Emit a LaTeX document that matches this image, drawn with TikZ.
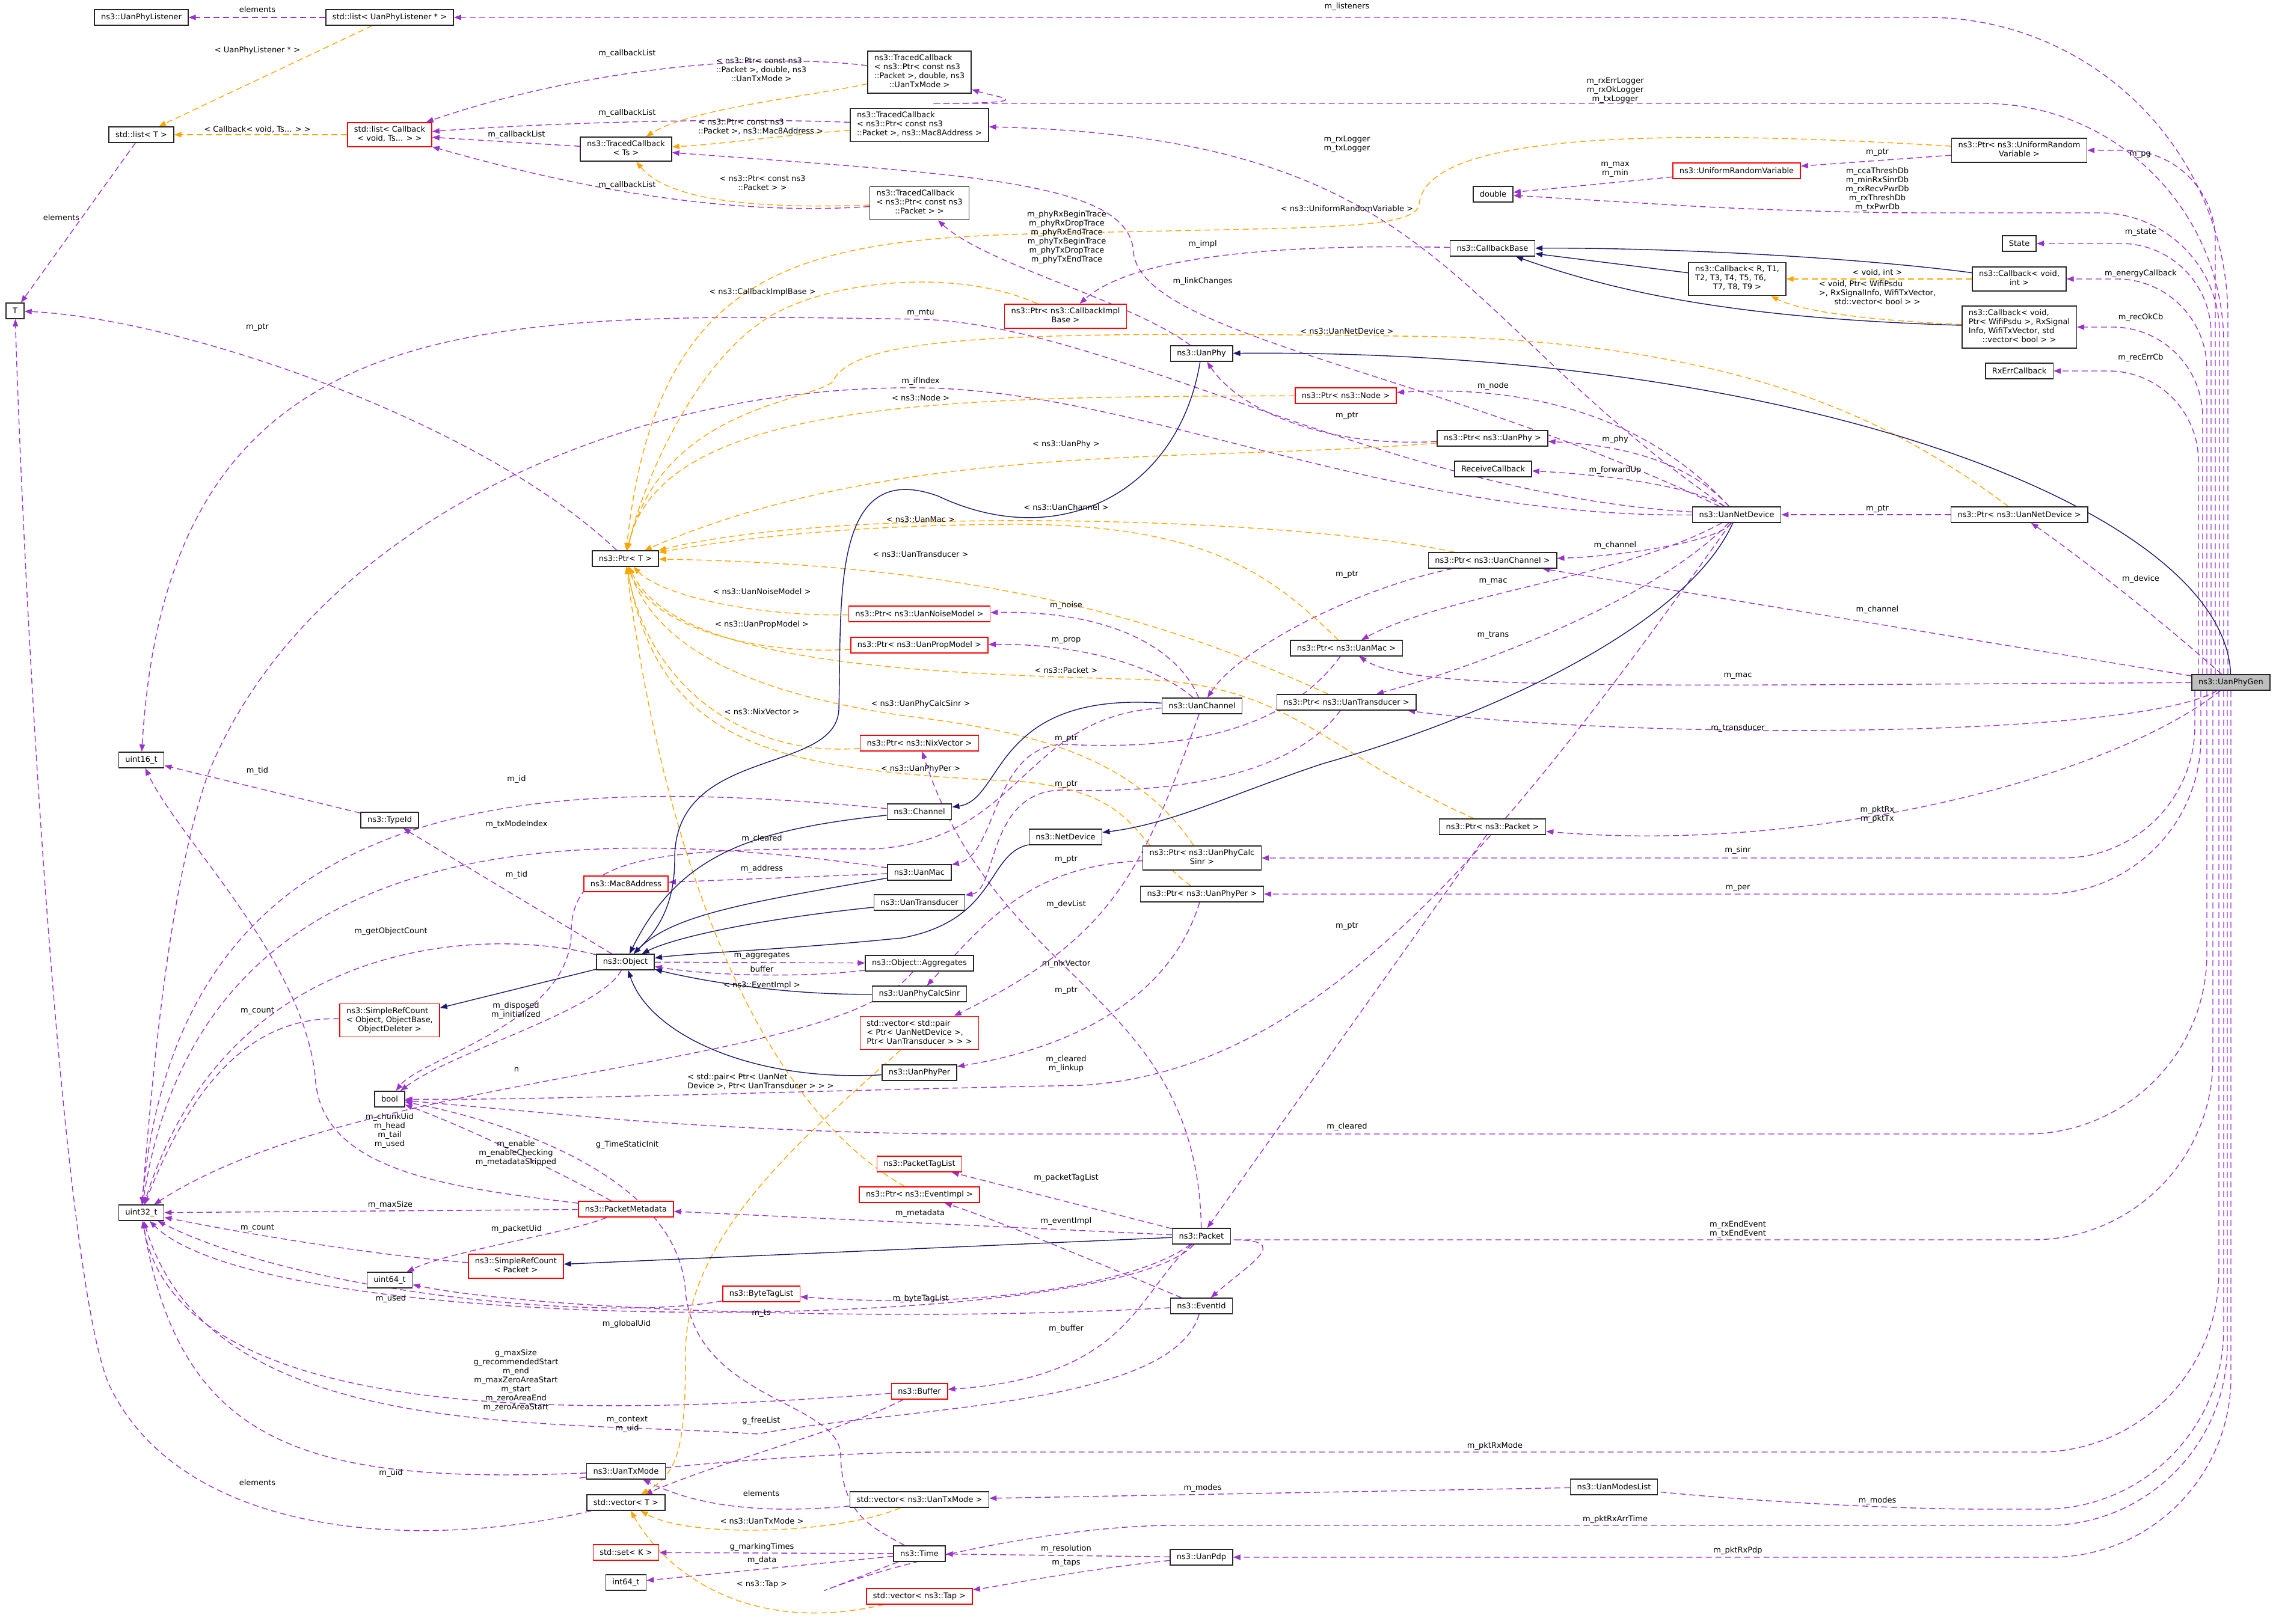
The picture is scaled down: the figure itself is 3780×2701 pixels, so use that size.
\documentclass[tikz,border=0pt]{standalone}
\usepackage{fontspec}
\setmainfont{DejaVu Sans}
\usetikzlibrary{arrows.meta}
\definecolor{usecol}{HTML}{9A32CD}
\definecolor{tplcol}{HTML}{FFA500}
\definecolor{inhcol}{HTML}{191970}
\pgfdeclarelayer{edges}
\pgfsetlayers{edges,main}
\newcommand{\nodefont}{\fontsize{6.5}{7.5}\selectfont}
% left aligned lines, last one centred
\newcommand{\dx}[2]{\begin{tabular}{@{}l@{}}#1\\\multicolumn{1}{@{}c@{}}{#2}\end{tabular}}
\tikzset{
  cls/.style={draw=black!85, line width=0.75pt, fill=white, font=\nodefont,
    inner xsep=5.5pt, inner ysep=2.6pt, minimum height=13pt},
  clsred/.style={cls, draw=red},
  clsmain/.style={cls, fill=black!25},
  lbl/.style={font=\nodefont, inner sep=0pt, align=center},
  use/.style={draw=usecol, line width=0.7pt, dash pattern=on 5pt off 3pt,
    -{Triangle[length=6pt,width=4.5pt]}},
  tpl/.style={use, draw=tplcol},
  inh/.style={draw=inhcol, line width=0.7pt, -{Triangle[length=6pt,width=4.5pt]}},
}
\begin{document}
\begin{tikzpicture}[x=0.5pt,y=-0.5pt]
\useasboundingbox (0,0) rectangle (3780,2701);

% classes
\node[clsmain] (phygen) at (3710,1135) {ns3::UanPhyGen};
\node[cls] (phylis) at (235,29) {ns3::UanPhyListener};
\node[cls] (listlis) at (648,29) {std::list< UanPhyListener * >};
\node[cls] (listT) at (235,224) {std::list< T >};
\node[clsred] (listcb) at (648,224) {\dx{std::list< Callback}{< void, Ts... > >}};
\node[cls] (tcTs) at (1041,248) {\dx{ns3::TracedCallback}{< Ts >}};
\node[cls] (tT) at (25,517) {T};
\node[cls] (tcTx) at (1529,120) {\dx{ns3::TracedCallback\\< ns3::Ptr< const ns3\\::Packet >, double, ns3}{::UanTxMode >}};
\node[cls] (tcMac) at (1529,208) {\dx{ns3::TracedCallback\\< ns3::Ptr< const ns3}{::Packet >, ns3::Mac8Address >}};
\node[cls] (tcPkt) at (1529,338) {\dx{ns3::TracedCallback\\< ns3::Ptr< const ns3}{::Packet > >}};
\node[clsred] (ptrCbImpl) at (1772,526) {\dx{ns3::Ptr< ns3::CallbackImpl}{Base >}};
\node[cls] (uanphy) at (1998,588) {ns3::UanPhy};
\node[clsred] (ptrNode) at (2238,658) {ns3::Ptr< ns3::Node >};
\node[cls] (ptrPhy) at (2482,729) {ns3::Ptr< ns3::UanPhy >};
\node[cls] (recvCb) at (2483,780) {ReceiveCallback};
\node[cls] (cbBase) at (2482,413) {ns3::CallbackBase};
\node[cls] (dbl) at (2483,323) {double};
\node[cls] (ptrUrv) at (3358,250) {\dx{ns3::Ptr< ns3::UniformRandom}{Variable >}};
\node[clsred] (urv) at (2888,284) {ns3::UniformRandomVariable};
\node[cls] (state) at (3358,405) {State};
\node[cls] (cbR) at (2889,464) {\dx{ns3::Callback< R, T1,\\T2, T3, T4, T5, T6,}{T7, T8, T9 >}};
\node[cls] (cbVoidInt) at (3358,464) {\dx{ns3::Callback< void,}{int >}};
\node[cls] (cbWifi) at (3358,544) {\dx{ns3::Callback< void,\\ Ptr< WifiPsdu >, RxSignal\\Info, WifiTxVector, std}{::vector< bool > >}};
\node[cls] (rxErr) at (3358,617) {RxErrCallback};
\node[cls] (netdev) at (2888,856) {ns3::UanNetDevice};
\node[cls] (ptrNetdev) at (3358,856) {ns3::Ptr< ns3::UanNetDevice >};
\node[cls] (ptrT) at (1040,929) {ns3::Ptr< T >};
\node[cls] (u16) at (235,1264) {uint16\_t};
\node[cls] (typeid) at (648,1364) {ns3::TypeId};
\node[clsred] (mac8) at (1041,1470) {ns3::Mac8Address};
\node[cls] (object) at (1040,1600) {ns3::Object};
\node[clsred] (srcObj) at (648,1697) {\dx{ns3::SimpleRefCount\\< Object, ObjectBase,}{ObjectDeleter >}};
\node[clsred] (ptrNoise) at (1529,1021) {ns3::Ptr< ns3::UanNoiseModel >};
\node[clsred] (ptrProp) at (1529,1073) {ns3::Ptr< ns3::UanPropModel >};
\node[cls] (uanchan) at (1999,1174) {ns3::UanChannel};
\node[cls] (ptrMac) at (2239,1078) {ns3::Ptr< ns3::UanMac >};
\node[cls] (ptrTrans) at (2239,1168) {ns3::Ptr< ns3::UanTransducer >};
\node[cls] (ptrChan) at (2482,932) {ns3::Ptr< ns3::UanChannel >};
\node[clsred] (ptrNix) at (1529,1236) {ns3::Ptr< ns3::NixVector >};
\node[cls] (channel) at (1529,1350) {ns3::Channel};
\node[cls] (netdevice) at (1772,1392) {ns3::NetDevice};
\node[cls] (uanmac) at (1529,1451) {ns3::UanMac};
\node[cls] (uantrans) at (1529,1501) {ns3::UanTransducer};
\node[cls] (ptrSinr) at (1999,1427) {\dx{ns3::Ptr< ns3::UanPhyCalc}{Sinr >}};
\node[cls] (ptrPer) at (1999,1487) {ns3::Ptr< ns3::UanPhyPer >};
\node[cls] (ptrPkt) at (2482,1375) {ns3::Ptr< ns3::Packet >};
\node[cls] (aggr) at (1529,1602) {ns3::Object::Aggregates};
\node[cls] (calcsinr) at (1529,1653) {ns3::UanPhyCalcSinr};
\node[clsred] (devlist) at (1529,1718) {\dx{std::vector< std::pair\\< Ptr< UanNetDevice >,}{Ptr< UanTransducer > > >}};
\node[cls] (uanper) at (1529,1784) {ns3::UanPhyPer};
\node[cls] (bln) at (648,1828) {bool};
\node[cls] (u32) at (235,2017) {uint32\_t};
\node[clsred] (pmeta) at (1041,2011) {ns3::PacketMetadata};
\node[clsred] (srcPkt) at (858,2106) {\dx{ns3::SimpleRefCount}{< Packet >}};
\node[cls] (u64) at (648,2129) {uint64\_t};
\node[clsred] (btl) at (1266,2152) {ns3::ByteTagList};
\node[cls] (txmode) at (1041,2447) {ns3::UanTxMode};
\node[cls] (vecT) at (1041,2499) {std::vector< T >};
\node[clsred] (setK) at (1041,2582) {std::set< K >};
\node[cls] (i64) at (1041,2632) {int64\_t};
\node[clsred] (ptl) at (1529,1936) {ns3::PacketTagList};
\node[clsred] (ptrEv) at (1529,1987) {ns3::Ptr< ns3::EventImpl >};
\node[cls] (packet) at (1998,2056) {ns3::Packet};
\node[cls] (eventid) at (1998,2172) {ns3::EventId};
\node[clsred] (buffer) at (1529,2314) {ns3::Buffer};
\node[cls] (vecTx) at (1529,2494) {std::vector< ns3::UanTxMode >};
\node[cls] (time) at (1529,2584) {ns3::Time};
\node[cls] (pdp) at (1998,2590) {ns3::UanPdp};
\node[clsred] (vecTap) at (1529,2655) {std::vector< ns3::Tap >};
\node[cls] (modes) at (2684,2473) {ns3::UanModesList};

\begin{pgfonlayer}{edges}
% members
\draw[use] (listlis) -- (phylis);
\draw[use] (listT) -- (tT);
\draw[use] (tcTx) .. controls (1250,85) and (950,120) .. (listcb);
\draw[use] (tcMac) .. controls (1200,195) and (900,205) .. (listcb);
\draw[use] (tcTs) -- (listcb);
\draw[use] (tcPkt) .. controls (1200,360) and (950,310) .. (listcb);
\draw[use] (netdev) .. controls (2400,520) and (2400,230) .. (tcMac);
\draw[use] (uanphy) .. controls (1880,500) and (1640,440) .. (tcPkt);
\draw[use] (ptrT) .. controls (800,700) and (300,530) .. (tT);
\draw[use] (netdev) .. controls (2300,820) and (1850,540) .. (1531,531) .. controls (800,520) and (280,500) .. (u16);
\draw[use] (netdev) .. controls (2300,860) and (1900,650) .. (1531,645) .. controls (1000,640) and (500,900) .. (345,1290) .. controls (290,1450) and (260,1700) .. (u32);
\draw[use] (ptrUrv) -- (urv);
\draw[use] (urv) -- (dbl);
\draw[use] (cbBase) .. controls (2100,405) and (1880,430) .. (ptrCbImpl);
\draw[use] (netdev) .. controls (2400,620) and (1900,560) .. (1885,420) .. controls (1880,300) and (1600,290) .. (tcTs);
\draw[use] (netdev) .. controls (2700,650) and (2450,645) .. (ptrNode);
\draw[use] (netdev) .. controls (2800,760) and (2680,740) .. (ptrPhy);
\draw[use] (netdev) .. controls (2820,810) and (2680,790) .. (recvCb);
\draw[use] (netdev) .. controls (2860,900) and (2700,925) .. (ptrChan);
\draw[use] (netdev) .. controls (2700,960) and (2400,990) .. (ptrMac);
\draw[use] (netdev) .. controls (2750,1000) and (2450,1110) .. (ptrTrans);
\draw[use] (ptrChan) .. controls (2250,980) and (2060,1080) .. (uanchan);
\draw[use] (ptrPhy) .. controls (2200,745) and (2060,680) .. (uanphy);
\draw[use] (ptrNetdev) -- (netdev);
\draw[use] (phygen) .. controls (3580,1020) and (3450,920) .. (ptrNetdev);
\draw[use] (phygen) -- (ptrChan);
\draw[use] (phygen) .. controls (2700,1140) and (2350,1150) .. (ptrMac);
\draw[use] (phygen) .. controls (3550,1230) and (2700,1230) .. (ptrTrans);
\draw[use] (phygen) .. controls (3500,1300) and (3000,1420) .. (ptrPkt);
\draw[use,rounded corners=250pt] ([shift={(-5,0)}]phygen.north) |- (listlis);
\draw[use] ([shift={(-12,0)}]phygen.north) [rounded corners=200pt] |- (1950,172) [sharp corners] .. controls (1750,172) and (1650,160) .. (tcTx);
\draw[use] ([shift={(-19,0)}]phygen.north) [rounded corners=100pt] |- (3000,354) [sharp corners] -- (dbl);
\draw[use,rounded corners=75pt] ([shift={(-26,0)}]phygen.north) |- (ptrUrv);
\draw[use,rounded corners=75pt] ([shift={(-33,0)}]phygen.north) |- (state);
\draw[use,rounded corners=75pt] ([shift={(-40,0)}]phygen.north) |- (cbVoidInt);
\draw[use,rounded corners=75pt] ([shift={(-47,0)}]phygen.north) |- (cbWifi);
\draw[use,rounded corners=75pt] ([shift={(-54,0)}]phygen.north) |- (rxErr);
\draw[use,rounded corners=110pt] ([shift={(-60,0)}]phygen.south) |- (ptrSinr);
\draw[use,rounded corners=130pt] ([shift={(-50,0)}]phygen.south) |- (ptrPer);
\draw[use] ([shift={(-40,0)}]phygen.south) [rounded corners=150pt] |- (1300,1886) [sharp corners] -- (bln);
\draw[use] ([shift={(-30,0)}]phygen.south) [rounded corners=150pt] |- (2350,2062) [sharp corners] .. controls (2150,2062) and (2080,2100) .. (eventid);
\draw[use] ([shift={(-20,0)}]phygen.south) [rounded corners=150pt] |- (1260,2415) [sharp corners] -- (txmode);
\draw[use] ([shift={(-12,0)}]phygen.south) [rounded corners=150pt] |- (3000,2510) [sharp corners] -- (modes);
\draw[use] ([shift={(-6,0)}]phygen.south) [rounded corners=150pt] |- (1650,2537) [sharp corners] -- (time);
\draw[use,rounded corners=150pt] (phygen.south) |- (pdp);
\draw[use] (typeid) -- (u16);
\draw[use] (pmeta) .. controls (750,1975) and (540,1950) .. (525,1800) .. controls (510,1600) and (300,1400) .. (u16);
\draw[use] (object) -- (typeid);
\draw[use] (channel) .. controls (900,1290) and (300,1300) .. (u32);
\draw[use] (uanmac) .. controls (900,1360) and (330,1400) .. (u32);
\draw[use] (object) .. controls (800,1540) and (380,1560) .. (u32);
\draw[use] (srcObj) .. controls (420,1690) and (320,1800) .. (u32);
\draw[use] (object) .. controls (1000,1680) and (750,1750) .. (bln);
\draw[use] (aggr) .. controls (1390,1780) and (600,1780) .. (u32);
\draw[use] (object) -- (aggr);
\draw[use] (aggr) .. controls (1350,1625) and (1200,1625) .. (object);
\draw[use] (uanmac) -- (mac8);
\draw[use] (uanchan) .. controls (1700,1190) and (1700,1400) .. (1450,1412) .. controls (1100,1410) and (950,1420) .. (950,1550) .. controls (950,1700) and (700,1760) .. (bln);
\draw[use] (uanchan) .. controls (1960,1080) and (1850,1015) .. (ptrNoise);
\draw[use] (uanchan) .. controls (1940,1120) and (1820,1070) .. (ptrProp);
\draw[use] (packet) .. controls (1990,1650) and (1660,1640) .. (ptrNix);
\draw[use] (uanchan) .. controls (1900,1450) and (1850,1560) .. (devlist);
\draw[use] (ptrMac) .. controls (2150,1200) and (2000,1250) .. (1774,1238) .. controls (1650,1235) and (1660,1420) .. (uanmac);
\draw[use] (ptrTrans) .. controls (2150,1290) and (1950,1320) .. (1773,1314) .. controls (1640,1310) and (1660,1480) .. (uantrans);
\draw[use] (ptrSinr) .. controls (1720,1440) and (1650,1520) .. (calcsinr);
\draw[use] (ptrPer) .. controls (1950,1650) and (1800,1740) .. (uanper);
\draw[use] (netdev) .. controls (2500,1400) and (2200,1780) .. (1800,1805) .. controls (1300,1815) and (900,1830) .. (bln);
\draw[use] (ptrPkt) -- (packet);
\draw[use] (packet) -- (ptl);
\draw[use] (packet) -- (pmeta);
\draw[use] (eventid) .. controls (1800,2090) and (1660,2030) .. (ptrEv);
\draw[use] (packet) .. controls (1900,2130) and (1650,2180) .. (btl);
\draw[use] (btl) .. controls (1000,2200) and (500,2150) .. (u32);
\draw[use] (eventid) .. controls (1500,2200) and (900,2180) .. (u64);
\draw[use] (packet) .. controls (1850,2220) and (450,2230) .. (u32);
\draw[use] (pmeta) -- (u32);
\draw[use] (srcPkt) .. controls (650,2090) and (450,2060) .. (u32);
\draw[use] (pmeta) .. controls (950,2050) and (750,2080) .. (u64);
\draw[use] (pmeta) .. controls (950,1960) and (790,1880) .. (bln);
\draw[use] (time) .. controls (1450,2540) and (1400,2520) .. (1398,2420) .. controls (1396,2330) and (1160,2330) .. (1140,2150) .. controls (1130,1950) and (820,1860) .. (bln);
\draw[use] (packet) .. controls (1890,2150) and (1880,2290) .. (buffer);
\draw[use] (buffer) .. controls (1100,2345) and (300,2400) .. (u32);
\draw[use] (eventid) .. controls (1950,2340) and (1500,2340) .. (1260,2385) .. controls (900,2360) and (350,2400) .. (u32);
\draw[use] (txmode) .. controls (500,2470) and (300,2400) .. (u32);
\draw[use] (vecT) .. controls (700,2580) and (300,2560) .. (180,2300) .. controls (100,2100) and (40,1000) .. (tT);
\draw[use] (buffer) .. controls (1400,2380) and (1200,2430) .. (vecT);
\draw[use] (vecTx) .. controls (1250,2520) and (1150,2500) .. (txmode);
\draw[use] (modes) -- (vecTx);
\draw[use] (pdp) -- (time);
\draw[use] (pdp) .. controls (1800,2610) and (1650,2640) .. (vecTap);
\draw[use] (time) -- (setK);
\draw[use] (time) -- (i64);

% template instances
\draw[tpl] (listlis) -- (listT);
\draw[tpl] (listcb) -- (listT);
\draw[tpl] (tcTx) .. controls (1350,160) and (1150,180) .. (tcTs);
\draw[tpl] (tcMac) .. controls (1300,225) and (1200,240) .. (tcTs);
\draw[tpl] (tcPkt) .. controls (1200,350) and (1100,320) .. (tcTs);
\draw[tpl] (ptrUrv) .. controls (2700,210) and (2370,230) .. (2360,340) .. controls (2355,380) and (2200,378) .. (1900,385) .. controls (1400,395) and (1100,380) .. (ptrT);
\draw[tpl] (ptrCbImpl) .. controls (1580,440) and (1350,470) .. (1260,540) .. controls (1150,620) and (1070,800) .. (ptrT);
\draw[tpl] (ptrNetdev) .. controls (3150,700) and (2900,575) .. (2400,560) .. controls (1700,550) and (1420,555) .. (1385,635) .. controls (1340,670) and (1100,680) .. (ptrT);
\draw[tpl] (ptrNode) .. controls (1600,660) and (1100,660) .. (ptrT);
\draw[tpl] (ptrPhy) .. controls (2000,770) and (1500,730) .. (ptrT);
\draw[tpl] (ptrChan) .. controls (2150,860) and (1400,840) .. (ptrT);
\draw[tpl] (ptrMac) .. controls (2110,950) and (2000,875) .. (1700,872) .. controls (1400,872) and (1200,900) .. (ptrT);
\draw[tpl] (ptrTrans) .. controls (2000,1060) and (1700,940) .. (ptrT);
\draw[tpl] (ptrNoise) .. controls (1250,1025) and (1100,990) .. (ptrT);
\draw[tpl] (ptrProp) .. controls (1250,1090) and (1080,1040) .. (ptrT);
\draw[tpl] (ptrPkt) .. controls (2200,1250) and (2150,1140) .. (1900,1130) .. controls (1500,1120) and (1120,1100) .. (ptrT);
\draw[tpl] (ptrSinr) .. controls (1880,1250) and (1700,1215) .. (1501,1190) .. controls (1300,1160) and (1100,1100) .. (ptrT);
\draw[tpl] (ptrNix) .. controls (1250,1260) and (1080,1150) .. (ptrT);
\draw[tpl] (ptrPer) .. controls (1880,1400) and (1900,1320) .. (1700,1300) .. controls (1300,1280) and (1100,1250) .. (ptrT);
\draw[tpl] (ptrEv) .. controls (1250,1830) and (1100,1400) .. (ptrT);
\draw[tpl] (cbVoidInt) -- (cbR);
\draw[tpl] (cbWifi) .. controls (3050,530) and (2980,510) .. (cbR);
\draw[tpl] (devlist) .. controls (1350,1880) and (1140,2050) .. (1140,2250) .. controls (1140,2400) and (1130,2450) .. (vecT);
\draw[tpl] (vecTx) .. controls (1400,2550) and (1150,2560) .. (vecT);
\draw[tpl] (vecTap) .. controls (1250,2720) and (1110,2620) .. (vecT);

% inheritance
\draw[inh] (phygen) .. controls (3700,850) and (3000,580) .. (uanphy);
\draw[inh] (uanphy) .. controls (1960,820) and (1760,920) .. (1560,825) .. controls (1380,760) and (1400,1000) .. (1395,1180) .. controls (1390,1290) and (1120,1240) .. (1122,1430) .. controls (1122,1520) and (1080,1560) .. (object);
\draw[inh] (uanchan) .. controls (1650,1150) and (1670,1330) .. (channel);
\draw[inh] (channel) .. controls (1250,1380) and (1130,1420) .. (object);
\draw[inh] (netdev) .. controls (2800,1050) and (2450,1200) .. (2200,1270) .. controls (2050,1320) and (1950,1370) .. (netdevice);
\draw[inh] (netdevice) .. controls (1640,1420) and (1660,1530) .. (1500,1560) .. controls (1300,1580) and (1150,1585) .. (object);
\draw[inh] (uanmac) .. controls (1250,1500) and (1120,1520) .. (object);
\draw[inh] (uantrans) .. controls (1250,1530) and (1120,1560) .. (object);
\draw[inh] (calcsinr) .. controls (1300,1655) and (1160,1630) .. (object);
\draw[inh] (uanper) .. controls (1250,1800) and (1080,1720) .. (object);
\draw[inh] (object) -- (srcObj);
\draw[inh] (packet) -- (srcPkt);
\draw[inh] (cbVoidInt) .. controls (3100,430) and (2800,412) .. (cbBase);
\draw[inh] (cbR) -- (cbBase);
\draw[inh] (cbWifi) .. controls (2900,530) and (2700,490) .. (cbBase);
\end{pgfonlayer}

% labels
\node[lbl] (lb1) at (428,16) {elements};
\node[lbl] (lb2) at (2240,11) {m\_listeners};
\node[lbl] (lb3) at (102,362) {elements};
\node[lbl] (lb4) at (1043,89) {m\_callbackList};
\node[lbl] (lb5) at (1043,188) {m\_callbackList};
\node[lbl] (lb6) at (859,224) {m\_callbackList};
\node[lbl] (lb7) at (1043,308) {m\_callbackList};
\node[lbl] (lb8) at (428,84) {< UanPhyListener * >};
\node[lbl] (lb9) at (428,215) {< Callback< void, Ts... > >};
\node[lbl] (lb10) at (1266,118) {\dx{< ns3::Ptr< const ns3\\::Packet >, double, ns3}{::UanTxMode >}};
\node[lbl] (lb11) at (1265,212) {\dx{< ns3::Ptr< const ns3}{::Packet >, ns3::Mac8Address >}};
\node[lbl] (lb12) at (1268,306) {\dx{< ns3::Ptr< const ns3}{::Packet > >}};
\node[lbl] (lb13) at (2686,150) {m\_rxErrLogger\\m\_rxOkLogger\\m\_txLogger};
\node[lbl] (lb14) at (2240,240) {m\_rxLogger\\m\_txLogger};
\node[lbl] (lb15) at (1774,395) {m\_phyRxBeginTrace\\m\_phyRxDropTrace\\m\_phyRxEndTrace\\m\_phyTxBeginTrace\\m\_phyTxDropTrace\\m\_phyTxEndTrace};
\node[lbl] (lb16) at (428,544) {m\_ptr};
\node[lbl] (lb17) at (1531,520) {m\_mtu};
\node[lbl] (lb18) at (1531,634) {m\_ifIndex};
\node[lbl] (lb19) at (3122,253) {m\_ptr};
\node[lbl] (lb20) at (2686,282) {m\_max\\m\_min};
\node[lbl] (lb21) at (3122,315) {m\_ccaThreshDb\\m\_minRxSinrDb\\m\_rxRecvPwrDb\\m\_rxThreshDb\\m\_txPwrDb};
\node[lbl] (lb22) at (3559,257) {m\_pg};
\node[lbl] (lb23) at (3560,386) {m\_state};
\node[lbl] (lb24) at (3560,455) {m\_energyCallback};
\node[lbl] (lb25) at (3560,528) {m\_recOkCb};
\node[lbl] (lb26) at (3560,595) {m\_recErrCb};
\node[lbl] (lb27) at (2000,406) {m\_impl};
\node[lbl] (lb28) at (2000,468) {m\_linkChanges};
\node[lbl] (lb29) at (2483,642) {m\_node};
\node[lbl] (lb30) at (2686,731) {m\_phy};
\node[lbl] (lb31) at (2686,782) {m\_forwardUp};
\node[lbl] (lb32) at (2686,907) {m\_channel};
\node[lbl] (lb33) at (2483,967) {m\_mac};
\node[lbl] (lb34) at (2483,1056) {m\_trans};
\node[lbl] (lb35) at (2240,955) {m\_ptr};
\node[lbl] (lb36) at (2240,691) {m\_ptr};
\node[lbl] (lb37) at (3122,846) {m\_ptr};
\node[lbl] (lb38) at (3560,963) {m\_device};
\node[lbl] (lb39) at (3122,1014) {m\_channel};
\node[lbl] (lb40) at (2890,1124) {m\_mac};
\node[lbl] (lb41) at (2890,1211) {m\_transducer};
\node[lbl] (lb42) at (3122,1355) {m\_pktRx\\m\_pktTx};
\node[lbl] (lb43) at (2890,1414) {m\_sinr};
\node[lbl] (lb44) at (2890,1477) {m\_per};
\node[lbl] (lb45) at (2240,1874) {m\_cleared};
\node[lbl] (lb46) at (2890,2045) {m\_rxEndEvent\\m\_txEndEvent};
\node[lbl] (lb47) at (2486,2405) {m\_pktRxMode};
\node[lbl] (lb48) at (3122,2496) {m\_modes};
\node[lbl] (lb49) at (2686,2527) {m\_pktRxArrTime};
\node[lbl] (lb50) at (2890,2579) {m\_pktRxPdp};
\node[lbl] (lb51) at (428,1282) {m\_tid};
\node[lbl] (lb52) at (859,1296) {m\_id};
\node[lbl] (lb53) at (859,1371) {m\_txModeIndex};
\node[lbl] (lb54) at (859,1455) {m\_tid};
\node[lbl] (lb55) at (650,1549) {m\_getObjectCount};
\node[lbl] (lb56) at (428,1681) {m\_count};
\node[lbl] (lb57) at (858,1681) {m\_disposed\\m\_initialized};
\node[lbl] (lb58) at (859,1779) {n};
\node[lbl] (lb59) at (1267,1589) {m\_aggregates};
\node[lbl] (lb60) at (1267,1612) {buffer};
\node[lbl] (lb61) at (1267,1445) {m\_address};
\node[lbl] (lb62) at (1267,1395) {m\_cleared};
\node[lbl] (lb63) at (1773,1007) {m\_noise};
\node[lbl] (lb64) at (1773,1065) {m\_prop};
\node[lbl] (lb65) at (1773,1603) {m\_nixVector};
\node[lbl] (lb66) at (1773,1504) {m\_devList};
\node[lbl] (lb67) at (1773,1228) {m\_ptr};
\node[lbl] (lb68) at (1773,1304) {m\_ptr};
\node[lbl] (lb69) at (1773,1429) {m\_ptr};
\node[lbl] (lb70) at (1773,1647) {m\_ptr};
\node[lbl] (lb71) at (1773,1770) {m\_cleared\\m\_linkup};
\node[lbl] (lb72) at (2240,1540) {m\_ptr};
\node[lbl] (lb73) at (1773,1959) {m\_packetTagList};
\node[lbl] (lb74) at (1530,2018) {m\_metadata};
\node[lbl] (lb75) at (1773,2031) {m\_eventImpl};
\node[lbl] (lb76) at (1531,2160) {m\_byteTagList};
\node[lbl] (lb77) at (650,2160) {m\_used};
\node[lbl] (lb78) at (1266,2184) {m\_ts};
\node[lbl] (lb79) at (1042,2202) {m\_globalUid};
\node[lbl] (lb80) at (649,2004) {m\_maxSize};
\node[lbl] (lb81) at (428,2042) {m\_count};
\node[lbl] (lb82) at (859,2044) {m\_packetUid};
\node[lbl] (lb83) at (858,1918) {m\_enable\\m\_enableChecking\\m\_metadataSkipped};
\node[lbl] (lb84) at (1043,1904) {g\_TimeStaticInit};
\node[lbl] (lb85) at (1773,2210) {m\_buffer};
\node[lbl] (lb86) at (858,2296) {g\_maxSize\\g\_recommendedStart\\m\_end\\m\_maxZeroAreaStart\\m\_start\\m\_zeroAreaEnd\\m\_zeroAreaStart};
\node[lbl] (lb87) at (1043,2369) {m\_context\\m\_uid};
\node[lbl] (lb88) at (650,2450) {m\_uid};
\node[lbl] (lb89) at (428,2466) {elements};
\node[lbl] (lb90) at (1266,2363) {g\_freeList};
\node[lbl] (lb91) at (1266,2484) {elements};
\node[lbl] (lb92) at (2000,2475) {m\_modes};
\node[lbl] (lb93) at (1773,2576) {m\_resolution};
\node[lbl] (lb94) at (1773,2599) {m\_taps};
\node[lbl] (lb95) at (1267,2573) {g\_markingTimes};
\node[lbl] (lb96) at (1267,2595) {m\_data};
\node[lbl] (lb97) at (648,1881) {m\_chunkUid\\m\_head\\m\_tail\\m\_used};
\node[lbl] (lb98) at (2240,347) {< ns3::UniformRandomVariable >};
\node[lbl] (lb99) at (1268,486) {< ns3::CallbackImplBase >};
\node[lbl] (lb100) at (2240,551) {< ns3::UanNetDevice >};
\node[lbl] (lb101) at (1531,662) {< ns3::Node >};
\node[lbl] (lb102) at (1773,739) {< ns3::UanPhy >};
\node[lbl] (lb103) at (1773,844) {< ns3::UanChannel >};
\node[lbl] (lb104) at (1531,864) {< ns3::UanMac >};
\node[lbl] (lb105) at (1531,922) {< ns3::UanTransducer >};
\node[lbl] (lb106) at (1267,984) {< ns3::UanNoiseModel >};
\node[lbl] (lb107) at (1267,1039) {< ns3::UanPropModel >};
\node[lbl] (lb108) at (1773,1115) {< ns3::Packet >};
\node[lbl] (lb109) at (1531,1171) {< ns3::UanPhyCalcSinr >};
\node[lbl] (lb110) at (1267,1184) {< ns3::NixVector >};
\node[lbl] (lb111) at (1531,1279) {< ns3::UanPhyPer >};
\node[lbl] (lb112) at (1267,1639) {< ns3::EventImpl >};
\node[lbl] (lb113) at (3122,453) {< void, int >};
\node[lbl] (lb114) at (3122,489) {\dx{< void, Ptr< WifiPsdu\\>, RxSignalInfo, WifiTxVector,}{std::vector< bool > >}};
\node[lbl] (lb115) at (1265,1800) {\dx{< std::pair< Ptr< UanNet}{Device >, Ptr< UanTransducer > > >}};
\node[lbl] (lb116) at (1267,2530) {< ns3::UanTxMode >};
\node[lbl] (lb117) at (1267,2635) {< ns3::Tap >};
\end{tikzpicture}
\end{document}
